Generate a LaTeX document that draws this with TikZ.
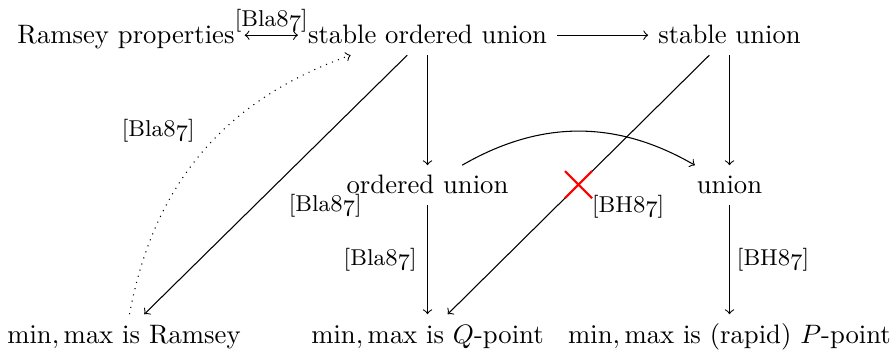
\documentclass[tikz,border=0pt]{standalone}
\usetikzlibrary{shapes.misc}
\newcommand\osn[1]{{\usefont{OML}{cmm}{m}{it}#1}}
\begin{document}
\begin{tikzpicture}[x=0.375pt,y=-0.375pt,
  obj/.style={anchor=base, inner sep=3.6pt, text height=7pt, text depth=0.4pt, font=\normalsize},
  lbl/.style={font=\fontsize{8.6}{10}\selectfont, inner sep=0pt},
  arr/.style={->, line width=0.4pt},
  crossmark/.style={cross out, draw=red, line width=0.8pt, minimum size=9.4pt, inner sep=0pt}
  ]
\useasboundingbox (0,0) rectangle (892,356);
% nodes
\node[obj] (A) at (126,44) {Ramsey properties};
\node[obj] (B) at (427.5,44) {stable ordered union};
\node[obj] (C) at (729.5,44) {stable union};
\node[obj] (D) at (427.5,194) {ordered union};
\node[obj] (E) at (729.5,194) {union};
\node[obj] (F) at (124,343) {$\min,\max$ is Ramsey};
\node[obj] (G) at (427.5,343) {$\min,\max$ is $Q$-point};
\node[obj] (H) at (729.5,343) {$\min,\max$ is (rapid) $P$-point};
% connectors
\draw[<->, line width=0.4pt] (A.east |- B.west) -- (B.west)
  node[lbl, midway, anchor=south, yshift=1pt] {[Bla\osn{87}]};
\draw[arr] (B) -- (C);
\draw[arr] (B) -- (D);
\draw[arr] (B) -- (F)
  node[lbl, pos=0.46, anchor=north west, xshift=0.75pt, yshift=-7.1pt] {[Bla\osn{87}]};
\draw[arr] (C) -- (E);
\draw[arr] (C) -- (G)
  node[crossmark, pos=0.5] (X) {}
  node[lbl, pos=0.5, anchor=north west, xshift=4.9pt, yshift=-3.8pt] {[BH\osn{87}]};
\draw[arr] (D) to[bend left=30] (E);
\draw[arr] (D) -- (G)
  node[lbl, midway, anchor=east, xshift=-3.9pt] {[Bla\osn{87}]};
\draw[arr] (E) -- (H)
  node[lbl, midway, anchor=west, xshift=2.6pt] {[BH\osn{87}]};
\draw[arr, dotted] (F) to[bend left=30]
  node[lbl, midway, anchor=east, xshift=-2.6pt, yshift=7.9pt] {[Bla\osn{87}]} (B);
\end{tikzpicture}
\end{document}
